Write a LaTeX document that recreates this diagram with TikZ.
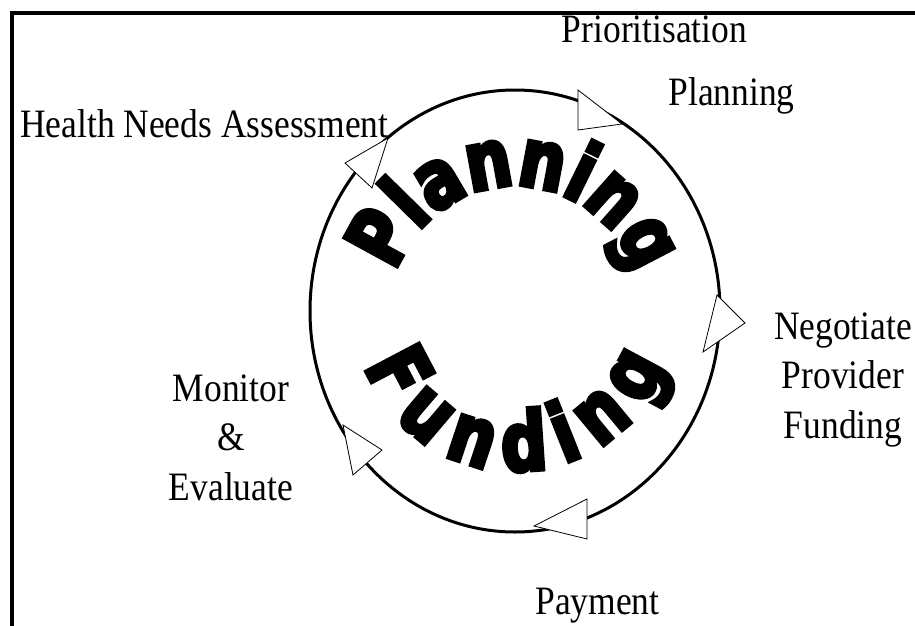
\documentclass[tikz,border=0pt]{standalone}
\usepackage{fontspec}
\setmainfont{Liberation Serif}[FakeStretch=0.88]
\newfontfamily\heavyfont{DejaVu Sans}[UprightFont=* Bold, FakeBold=5, FakeStretch=0.78]
\usetikzlibrary{decorations.text}
\begin{document}
\begin{tikzpicture}[x=1pt,y=1pt,
  lbl/.style={font=\fontsize{40.3}{49.5}\selectfont, inner sep=0pt, text=black},
  arrowtri/.style={draw=black, line width=0.8pt, fill=white, line join=miter},
  ring/.style={draw=black, line width=3pt},
  frameline/.style={draw=black, line width=4pt, line join=miter},
  bigword/.style={decorate, decoration={text along path, text align=fit to path,
    text={|\heavyfont\fontsize{82}{82}\selectfont|#1}}}]
\useasboundingbox (0,0) rectangle (915,-626);
\fill[white] (0,0) rectangle (915,-626);
% frame (top and left edges only)
\draw[frameline] (12,-626) -- (12,-13) -- (915,-13);
% cycle ring
\coordinate (c) at (515,-311);
\draw[ring] (c) ellipse [x radius=205, y radius=221];
% curved words
\path[bigword=Planning, shift={(515,-311)}] (162:125) arc[start angle=162, end angle=18, radius=125];
\path[bigword=Funding, shift={(515,-311)}] (200:160) arc[start angle=200, end angle=340, radius=160];
% open arrowheads on the ring
\draw[arrowtri] (388,-138) -- (345,-163) -- (372,-188) -- cycle;
\draw[arrowtri] (578,-90) -- (578,-130) -- (622,-124) -- cycle;
\draw[arrowtri] (717,-295) -- (745,-323) -- (703,-352) -- cycle;
\draw[arrowtri] (587,-499) -- (587,-539) -- (534,-526) -- cycle;
\draw[arrowtri] (343,-425) -- (382,-450) -- (353,-475) -- cycle;
% labels
\node[lbl, anchor=base west] (hna) at (20,-137) {Health Needs Assessment};
\node[lbl, anchor=base] (prio) at (654.5,-43) {Prioritisation};
\node[lbl, anchor=base] (plan) at (731.5,-105) {Planning};
\node[lbl, anchor=base] (neg) at (843,-339) {\begin{tabular}[t]{@{}c@{}}Negotiate\\Provider\\Funding\end{tabular}};
\node[lbl, anchor=base] (mon) at (231,-401) {\begin{tabular}[t]{@{}c@{}}Monitor\\\&\\Evaluate\end{tabular}};
\node[lbl, anchor=base] (pay) at (597.5,-614) {Payment};
\end{tikzpicture}
\end{document}
